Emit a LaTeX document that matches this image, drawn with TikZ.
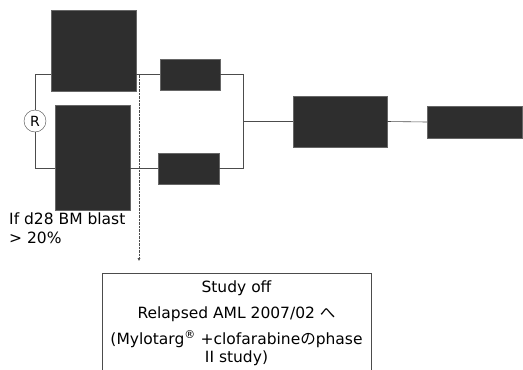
\documentclass[tikz,border=0pt]{standalone}
\usepackage{fontspec}
\setmainfont{DejaVu Sans}
\newfontfamily\jpfont{Noto Sans CJK JP}
\usetikzlibrary{arrows.meta}

\begin{document}
\begin{tikzpicture}[x=1pt,y=-1pt]
      \tikzstyle{blk}=[fill=black!82,draw=black!60,inner sep=0pt]
      \tikzstyle{wire}=[draw=black!70,line width=0.6pt]
      \tikzstyle{txt}=[inner sep=0pt,font=\fontsize{15.5}{18}\selectfont]
      \useasboundingbox (0,0) rectangle (523,370);
      \node[blk,minimum width=85pt,minimum height=81pt] (a1) at (93.5,50.5) {};
      \node[blk,minimum width=75pt,minimum height=105pt] (b1) at (92.5,157.5) {};
      \node[blk,minimum width=60pt,minimum height=31pt] (a2) at (190,74.5) {};
      \node[blk,minimum width=61pt,minimum height=31pt] (b2) at (188.5,168.5) {};
      \node[blk,minimum width=94pt,minimum height=51pt] (c) at (340,121.5) {};
      \node[blk,minimum width=95pt,minimum height=32pt] (d) at (474.5,122) {};
      \node[circle,draw=black!70,fill=white,minimum size=22pt,inner sep=0pt,font=\fontsize{14}{16}\selectfont] (r) at (35,121) {R};
      \coordinate (split) at (139,74.5);
      \coordinate (join) at (243,121.5);
      \node[txt,anchor=north west,align=left] (cond) at (9,213) {If d28 BM blast\\[1pt]> 20\%};
      \node[draw=black!70,minimum width=269pt,minimum height=110pt,anchor=north,inner sep=0pt] (off) at (236.5,273) {};
      \node[txt,anchor=north,align=center] (offtxt) at (off.north) {\rule{0pt}{19pt}Study off\\[8pt]Relapsed AML 2007/02 {\jpfont へ}\\[8pt](Mylotarg\textsuperscript{®} +clofarabine{\jpfont の}phase\\II study)};
      % branches
      \draw[wire] (r.north) |- (a1.west |- split);
      \draw[wire] (r.south) |- (b1.west |- b2.west);
      \draw[wire] (a1.east |- split) -- (a2.west);
      \draw[wire] (b1.east |- b2.west) -- (b2.west);
      \draw[wire] (a2.east) -| (join);
      \draw[wire] (b2.east) -| (join);
      \draw[wire] (join) -- (c.west);
      \draw[wire] (c.east) -- (d.west);
      \draw[black!70,densely dotted,shorten >=12pt,-{Latex[length=3pt,width=3pt]}] (split) -- (split |- off.north);
    \end{tikzpicture}
\end{document}
